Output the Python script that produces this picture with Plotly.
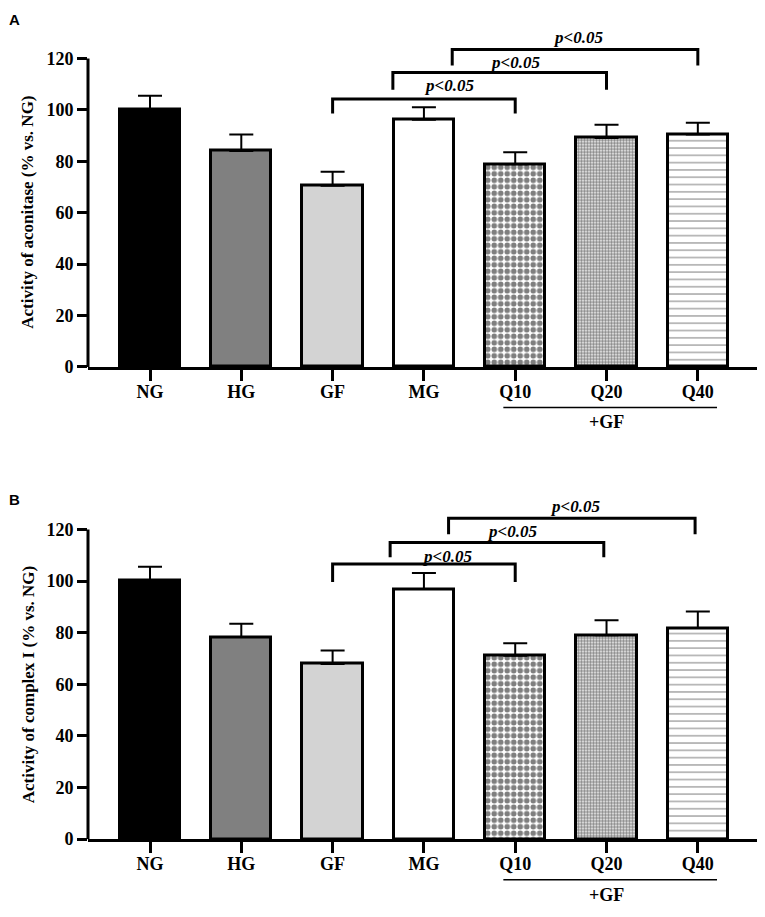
import plotly.graph_objects as go

groups = ["NG", "HG", "GF", "MG", "Q10", "Q20", "Q40"]
aconitase_mean = [100.1, 84.0, 70.5, 96.2, 78.8, 89.1, 90.4]
aconitase_sd = [5.4, 6.4, 5.4, 4.8, 4.7, 5.1, 4.6]
complex1_mean = [100.1, 78.3, 67.9, 96.9, 71.1, 79.0, 81.8]
complex1_sd = [5.5, 5.2, 5.2, 6.2, 4.8, 5.8, 6.4]

# significance brackets: (left x, right x, bar height, end height, label x, label y)
brackets_A = [(2.0, 4.0, 104.2, 98.6, 3.27, 109.3),
              (2.66, 5.0, 114.5, 107.8, 4.0, 118.3),
              (3.31, 6.0, 123.5, 117.3, 4.69, 128.0)]
brackets_B = [(2.0, 4.0, 106.6, 99.6, 3.25, 109.7),
              (2.63, 4.97, 115.0, 109.2, 3.97, 119.2),
              (3.27, 5.97, 124.3, 118.1, 4.66, 128.8)]
p_label = "p<0.05"

# the page body keeps an 8px margin, so the figure is 16px smaller than the window
W, H = 749, 901
L = 80
serif = "Liberation Serif"

fills = ["black", "#808080", "#d3d3d3", "white", "white", "white", "white"]
patterns = [None, None, None, None,
            dict(shape=".", size=6.5, solidity=0.58, fgcolor="black", bgcolor="white"),
            dict(shape=".", size=3, solidity=0.65, fgcolor="black", bgcolor="white"),
            dict(shape="-", size=7.3, solidity=0.14, fgcolor="black", bgcolor="white")]

fig = go.Figure()


def add_panel(n, means, sds, brackets, ytitle, dom, letter, letter_y):
    xa = "x" if n == 1 else "x%d" % n
    ya = "y" if n == 1 else "y%d" % n
    xs = list(range(len(groups)))
    for i in xs:
        m = dict(color=fills[i], line=dict(color="black", width=3))
        if patterns[i]:
            m["pattern"] = patterns[i]
        fig.add_trace(go.Bar(x=[i], y=[means[i]], width=0.66, marker=m,
                             error_y=dict(type="data", symmetric=False, array=[sds[i]],
                                          arrayminus=[0], color="black", thickness=2, width=12),
                             xaxis=xa, yaxis=ya, showlegend=False))
    lay = {}
    lay["xaxis" if n == 1 else "xaxis%d" % n] = dict(
        domain=[0, 1], range=[-0.679, 6.648], anchor=ya,
        tickvals=xs, ticktext=groups, showline=True, linewidth=3, linecolor="black",
        ticks="outside", ticklen=11, tickwidth=3, tickcolor="black", ticklabelstandoff=-5,
        tickfont=dict(family=serif, size=18, color="black", weight="bold"),
        showgrid=False, zeroline=False)
    lay["yaxis" if n == 1 else "yaxis%d" % n] = dict(
        domain=dom, range=[0, 132], anchor=xa,
        tickvals=[0, 20, 40, 60, 80, 100, 120], showline=False,
        ticks="outside", ticklen=10, tickwidth=3, tickcolor="black",
        tickfont=dict(family=serif, size=18, color="black", weight="bold"),
        showgrid=False, zeroline=False)
    fig.update_layout(**lay)
    # y axis line and title centred on the 0-120 span
    fig.add_shape(type="line", xref="paper", yref=ya, x0=0, x1=0, y0=0, y1=120,
                  line=dict(color="black", width=3))
    fig.add_annotation(x=(20 - L) / (W - L), y=60, xref="paper", yref=ya, text=ytitle,
                       textangle=-90, showarrow=False, xanchor="center", yanchor="middle",
                       font=dict(family=serif, size=17, color="black", weight="bold"))
    for (x0, x1, yb, ye, tx, ty) in brackets:
        fig.add_shape(type="path", xref=xa, yref=ya,
                      path="M %s,%s L %s,%s L %s,%s L %s,%s" % (x0, ye, x0, yb, x1, yb, x1, ye),
                      line=dict(color="black", width=3))
        fig.add_annotation(x=tx, y=ty, xref=xa, yref=ya, text=p_label, showarrow=False,
                           font=dict(family=serif, size=17, color="black", weight="bold",
                                     style="italic"))
    # +GF group line under Q10..Q40
    fig.add_shape(type="line", xref=xa, yref="paper", x0=3.87, x1=6.21,
                  y0=dom[0] - 41 / H, y1=dom[0] - 41 / H, line=dict(color="black", width=1.5))
    fig.add_annotation(x=5, y=dom[0] - 44 / H, xref=xa, yref="paper", text="+GF",
                       yanchor="top", showarrow=False,
                       font=dict(family=serif, size=18, color="black", weight="bold"))
    fig.add_annotation(x=(6 - L) / (W - L), y=1 - letter_y / H, xref="paper", yref="paper",
                       xanchor="center", yanchor="middle", text=letter, showarrow=False,
                       font=dict(family="Liberation Sans", size=15, color="black", weight="bold"))


add_panel(1, aconitase_mean, aconitase_sd, brackets_A, "Activity of aconitase (% vs. NG)",
          [(H - 363) / H, (H - 19.8) / H], "A", 12)
add_panel(2, complex1_mean, complex1_sd, brackets_B, "Activity of complex I (% vs. NG)",
          [(H - 840.5) / H, (H - 496) / H], "B", 497)

fig.update_layout(width=W, height=H, margin=dict(l=L, r=0, t=0, b=0),
                  plot_bgcolor="white", paper_bgcolor="white", bargap=0)

fig.write_html("out.html")
